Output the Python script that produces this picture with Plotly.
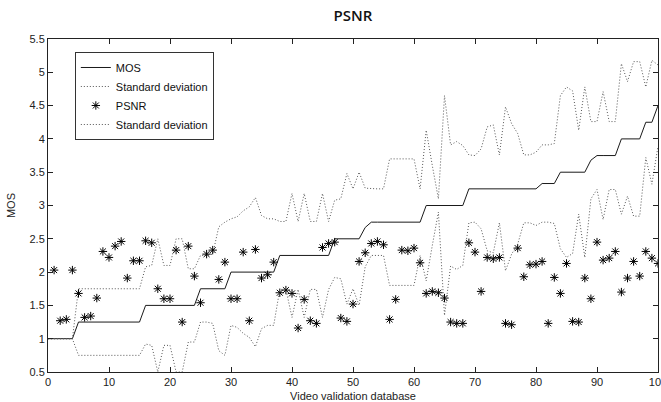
import plotly.graph_objects as go

# ---- data ----
video_index = list(range(0, 101))
mos = [1.0, 1.0, 1.0, 1.0, 1.0,
       1.25, 1.25, 1.25, 1.25, 1.25, 1.25, 1.25, 1.25, 1.25, 1.25, 1.25,
       1.5, 1.5, 1.5, 1.5, 1.5, 1.5, 1.5, 1.5, 1.5,
       1.75, 1.75, 1.75, 1.75, 1.75,
       2.0, 2.0, 2.0, 2.0, 2.0, 2.0, 2.0, 2.0,
       2.25, 2.25, 2.25, 2.25, 2.25, 2.25, 2.25, 2.25, 2.25,
       2.5, 2.5, 2.5, 2.5, 2.5,
       2.67,
       2.75, 2.75, 2.75, 2.75, 2.75, 2.75, 2.75, 2.75, 2.75,
       3.0, 3.0, 3.0, 3.0, 3.0, 3.0, 3.0,
       3.25, 3.25, 3.25, 3.25, 3.25, 3.25, 3.25, 3.25, 3.25, 3.25, 3.25, 3.25,
       3.33, 3.33, 3.33,
       3.5, 3.5, 3.5, 3.5, 3.5,
       3.68,
       3.75, 3.75, 3.75, 3.75,
       4.0, 4.0, 4.0, 4.0,
       4.25, 4.25,
       4.5]
std_dev = [0, 0, 0, 0, 0,
           0.5, 0.5, 0.5, 0.5, 0.5, 0.5, 0.5, 0.5, 0.5, 0.5, 0.5,
           0.58, 0.6, 1.0, 0.6, 0.6, 1.0, 1.0, 0.55, 0.55,
           0.5, 0.5, 0.52, 0.93, 1.0,
           0.8, 0.83, 0.92, 0.98, 1.12, 0.85, 0.8, 0.8,
           0.51, 0.51, 0.93, 0.51, 0.93, 0.51, 0.51, 0.93, 0.51,
           0.58, 0.6, 0.98, 0.75, 1.0,
           0.59,
           0.5, 0.5, 0.5, 0.95, 0.95, 0.95, 0.95, 0.95, 0.5,
           1.13, 0.6, 0.1, 1.65, 0.91, 0.96, 0.9,
           0.51, 0.5, 0.6, 0.93, 0.96, 0.51, 1.23, 0.98, 0.83, 0.51, 0.51, 0.55,
           0.58, 0.58, 0.6,
           1.15, 1.28, 1.22, 0.63, 1.28,
           0.58,
           0.51, 0.96, 0.51, 0.51,
           1.13, 0.86, 1.16, 1.16,
           0.53, 0.93,
           0.61]
psnr_index = list(range(1, 101))
psnr = [2.03, 1.27, 1.29, 2.03, 1.68, 1.32, 1.34, 1.61, 2.31, 2.22,
        2.39, 2.46, 1.91, 2.17, 2.17, 2.47, 2.44, 1.75, 1.60, 1.60,
        2.33, 1.25, 2.39, 1.94, 1.54, 2.27, 2.33, 1.89, 2.15, 1.60,
        1.60, 2.30, 1.27, 2.34, 1.91, 1.96, 2.15, 1.69, 1.73, 1.68,
        1.16, 1.59, 1.27, 1.23, 2.37, 2.43, 2.45, 1.31, 1.26, 1.52,
        2.16, 2.29, 2.43, 2.46, 2.41, 1.29, 1.59, 2.33, 2.32, 2.36,
        2.14, 1.68, 1.71, 1.69, 1.61, 1.25, 1.23, 1.23, 2.44, 2.30,
        1.71, 2.22, 2.20, 2.22, 1.23, 1.21, 2.36, 1.93, 2.11, 2.12,
        2.16, 1.23, 1.92, 1.68, 2.13, 1.26, 1.25, 1.91, 1.60, 2.45,
        2.18, 2.21, 2.31, 1.70, 1.91, 2.16, 1.94, 2.31, 2.21, 2.13]

upper = [m + s for m, s in zip(mos, std_dev)]
lower = [m - s for m, s in zip(mos, std_dev)]

FONT = "Liberation Sans, Arial, sans-serif"
DOT_COLOR = "#555555"
DOT_DASH = "1px,2px"

fig = go.Figure()
fig.add_trace(go.Scatter(x=video_index, y=mos, mode="lines", name="MOS",
                         line=dict(color="#1a1a1a", width=1)))
fig.add_trace(go.Scatter(x=video_index, y=upper, mode="lines", name="Standard deviation",
                         line=dict(color=DOT_COLOR, width=1, dash=DOT_DASH)))
fig.add_trace(go.Scatter(x=psnr_index, y=psnr, mode="markers", name="PSNR",
                         marker=dict(symbol="asterisk-open", size=7, color="black",
                                     line=dict(color="black", width=1))))
fig.add_trace(go.Scatter(x=video_index, y=lower, mode="lines", name="Standard deviation",
                         line=dict(color=DOT_COLOR, width=1, dash=DOT_DASH)))

fig.update_layout(
    width=661, height=402,
    margin=dict(l=48, r=3, t=39, b=30),
    paper_bgcolor="white", plot_bgcolor="white",
    font=dict(family=FONT, size=11, color="#222"),
    title=dict(text="PSNR", x=0.534, xanchor="center", y=0.962, yanchor="middle",
               yref="container", font=dict(family="Open Sans, sans-serif", size=15,
                                            color="#111", weight=600)),
    showlegend=True,
    legend=dict(x=0.044, y=0.961, xanchor="left", yanchor="top",
                bgcolor="white", bordercolor="#333", borderwidth=1,
                font=dict(family=FONT, size=11, color="#111"),
                tracegroupgap=0, itemwidth=30),
)
fig.update_xaxes(range=[0, 100], dtick=10, tick0=0, ticks="inside", ticklen=5,
                 tickcolor="#222", showline=True, linecolor="#222", linewidth=1,
                 mirror="ticks", showgrid=False, zeroline=False,
                 ticklabeloverflow="allow", automargin=False,
                 title=dict(text="Video validation database", standoff=6,
                            font=dict(family=FONT, size=11)))
fig.update_yaxes(range=[0.5, 5.5], dtick=0.5, tick0=0.5, ticks="inside", ticklen=5,
                 tickcolor="#222", showline=True, linecolor="#222", linewidth=1,
                 mirror="ticks", showgrid=False, zeroline=False, automargin=False,
                 title=dict(text="MOS", standoff=11, font=dict(family=FONT, size=11)))

fig.write_html("out.html", config={"displayModeBar": False},
               post_script="document.body.style.margin='0';document.body.style.overflow='hidden';")
